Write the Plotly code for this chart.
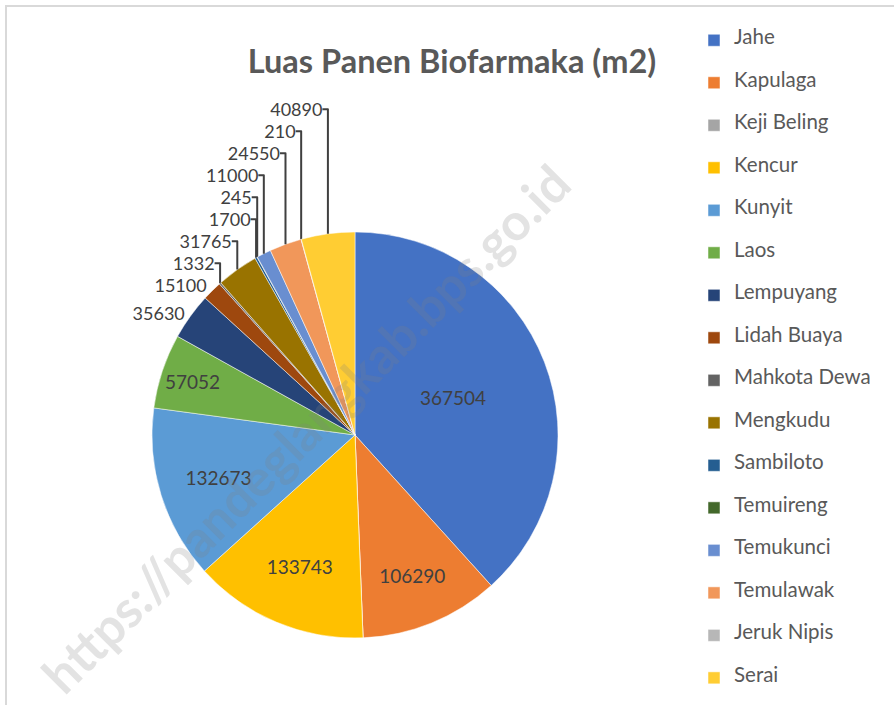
import plotly.graph_objects as go

labels = ["Jahe", "Kapulaga", "Keji Beling", "Kencur", "Kunyit", "Laos", "Lempuyang",
          "Lidah Buaya", "Mahkota Dewa", "Mengkudu", "Sambiloto", "Temuireng",
          "Temukunci", "Temulawak", "Jeruk Nipis", "Serai"]
values = [367504, 106290, 0, 133743, 132673, 57052, 35630,
          15100, 1332, 31765, 1700, 245,
          11000, 24550, 210, 40890]
colors = ["#4472C4", "#ED7D31", "#A5A5A5", "#FFC000", "#5B9BD5", "#70AD47", "#264478",
          "#9E480E", "#636363", "#997300", "#255E91", "#43682B",
          "#698ED0", "#F1975A", "#B7B7B7", "#FFCD33"]
title_text = "Luas Panen Biofarmaka (m2)"
watermark = "https://pandeglangkab.bps.go.id"

FONT = "Lato"
W, H = 894, 705
total = sum(values)
text = [str(v) if v > 0 else "" for v in values]
positions = []
for v in values:
    if v == 0:
        positions.append("none")
    elif v / total > 0.05:
        positions.append("inside")
    else:
        positions.append("outside")

# extra blank lines give the legend rows the reference's taller spacing
legend_labels = ["<br><span style='font-size:20.5px'>%s</span><br>" % l for l in labels]

cx, cy, r = 355, 435, 203
fig = go.Figure(go.Pie(
    labels=legend_labels,
    values=values,
    text=text,
    textinfo="text",
    textposition=positions,
    insidetextorientation="horizontal",
    sort=False,
    direction="clockwise",
    rotation=0,
    marker=dict(colors=colors, line=dict(color="white", width=0.5)),
    insidetextfont=dict(family=FONT, size=19, color="#404040"),
    outsidetextfont=dict(family=FONT, size=18, color="#404040"),
    hoverinfo="skip",
    domain=dict(x=[(cx - r) / W, (cx + r) / W], y=[1 - (cy + r) / H, 1 - (cy - r) / H]),
))

fig.update_layout(
    width=W, height=H,
    margin=dict(l=0, r=0, t=0, b=0),
    paper_bgcolor="white",
    plot_bgcolor="white",
    font=dict(family=FONT, color="#595959"),
    title=dict(text="<b>" + title_text + "</b>", x=452/W, xanchor="center",
               y=1 - 62/H, yanchor="middle",
               font=dict(family=FONT, size=32.5, color="#595959")),
    legend=dict(x=694/W, xanchor="left", y=0, yanchor="bottom",
                font=dict(family=FONT, size=10.13, color="#595959"),
                traceorder="normal", bgcolor="rgba(0,0,0,0)"),
    shapes=[
        dict(type="line", xref="paper", yref="paper", x0=5/W, x1=1, y0=1-6/H, y1=1-6/H,
             line=dict(color="#d9d9d9", width=2)),
        dict(type="line", xref="paper", yref="paper", x0=6/W, x1=6/W, y0=0, y1=1-6/H,
             line=dict(color="#d9d9d9", width=2)),
    ],
    annotations=[
        dict(text="<b>" + watermark + "</b>", xref="paper", yref="paper",
             x=305/W, y=1 - 428/H, xanchor="center", yanchor="middle",
             showarrow=False, textangle=-45,
             font=dict(family=FONT, size=51, color="rgba(128,128,128,0.22)")),
    ],
)

fig.write_html("out.html", config={"displayModeBar": False},
               post_script="document.body.style.margin='0';")
